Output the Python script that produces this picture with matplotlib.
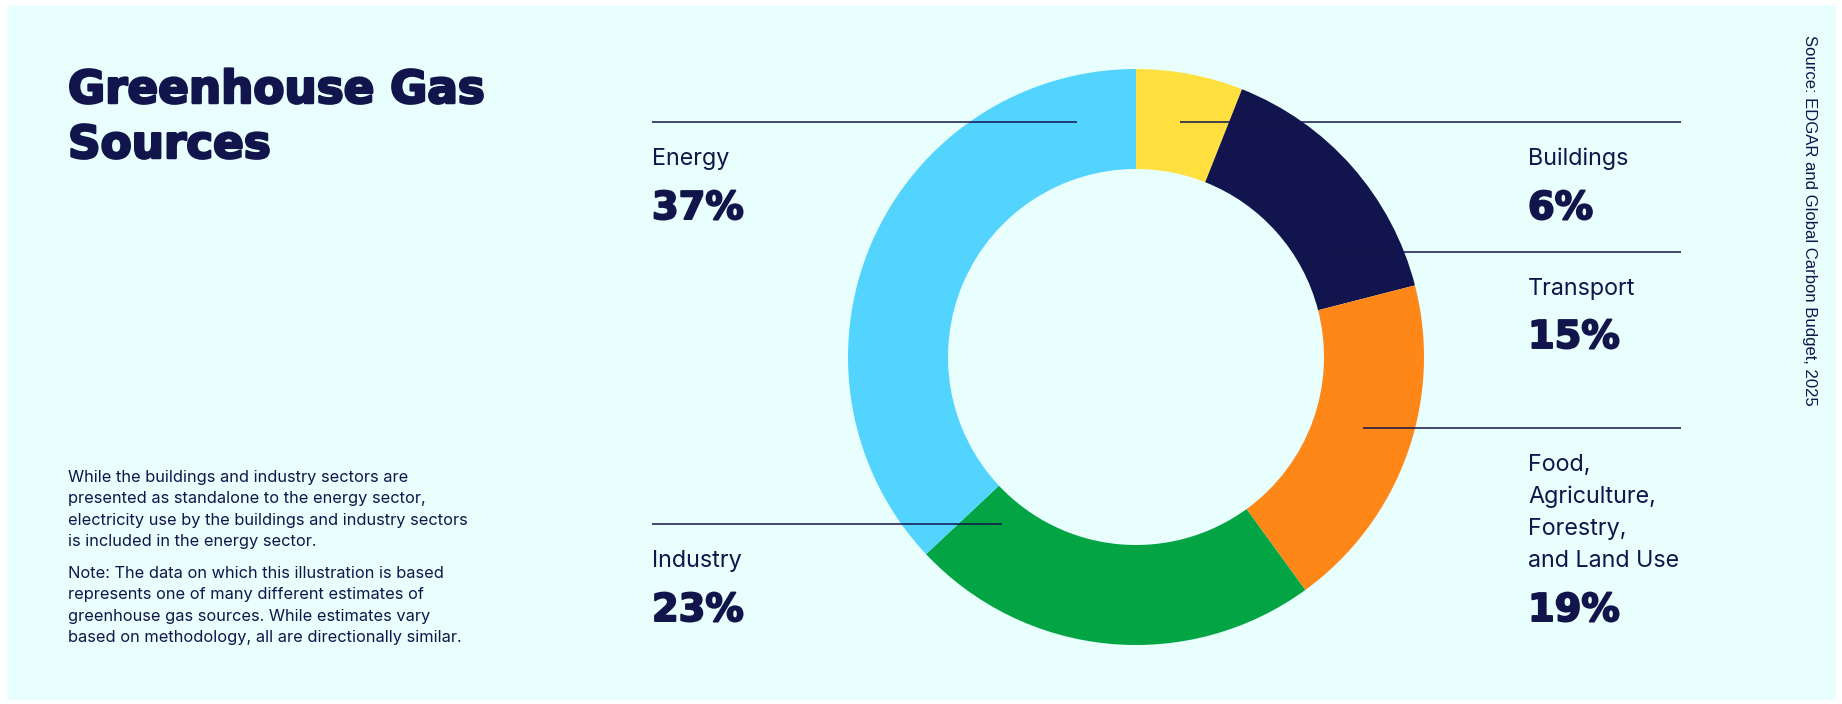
import matplotlib
matplotlib.use("Agg")
import matplotlib.pyplot as plt
import matplotlib.patheffects as pe
from matplotlib.patches import Rectangle

# ---- data ----
categories = ["Buildings", "Transport", "Food,\nAgriculture,\nForestry,\nand Land Use", "Industry", "Energy"]
shares = [6, 15, 19, 23, 37]
colors = ["#FFE03F", "#12154D", "#FF8717", "#03A444", "#52D4FF"]

title = "Greenhouse Gas\nSources"
note1 = ["While the buildings and industry sectors are",
         "presented as standalone to the energy sector,",
         "electricity use by the buildings and industry sectors",
         "is included in the energy sector."]
note2 = ["Note: The data on which this illustration is based",
         "represents one of many different estimates of",
         "greenhouse gas sources. While estimates vary",
         "based on methodology, all are directionally similar."]
source = "Source: EDGAR and Global Carbon Budget, 2025"

W, H = 1842, 704
NAVY = "#12154B"
BG = "#E8FFFD"

fig = plt.figure(figsize=(W / 100, H / 100), dpi=100)
fig.patch.set_facecolor("white")
ax = fig.add_axes([0, 0, 1, 1])

def Y(y):
    return H - y

ax.add_patch(Rectangle((7, Y(700)), 1829, 695, facecolor=BG, edgecolor="none", zorder=0))

cx, cy, R, ring = 1136, 357, 288, 100
ax.pie(shares, colors=colors, startangle=90, counterclock=False,
       center=(cx, Y(cy)), radius=R,
       wedgeprops=dict(width=ring, edgecolor="none", linewidth=0), frame=False)
for w in ax.patches[1:]:
    w.set_zorder(1)

ax.set_xlim(0, W)
ax.set_ylim(0, H)
ax.set_aspect("equal")
ax.axis("off")

# leader lines (pixel layout)
line_kw = dict(color=NAVY, lw=1.1, zorder=3, solid_capstyle="butt")
leader = {
    "Energy": (652, 1077, 122),
    "Buildings": (1180, 1681, 122),
    "Transport": (1330, 1681, 252),
    "Food": (1363, 1681, 428),
    "Industry": (652, 1002, 524),
}
for x0, x1, y in leader.values():
    ax.plot([x0, x1], [Y(y), Y(y)], **line_kw)

heavy = [pe.withStroke(linewidth=1.4, foreground=NAVY)]

# label layout: x, baseline of first name line, baseline of pct
label_pos = {
    "Buildings": (1528, 165, 219),
    "Transport": (1528, 295, 348),
    "Food": (1528, 471, 621),
    "Industry": (652, 567, 621),
    "Energy": (652, 165, 219),
}
name_font = dict(family=["Inter", "DejaVu Sans"], fontsize=16.8, color=NAVY)
pct_font = dict(family=["DejaVu Sans"], fontweight="bold", fontsize=27.6, color=NAVY,
                path_effects=heavy)

for cat, val in zip(categories, shares):
    key = cat.split(",")[0].split("\n")[0]
    x, yb, yp = label_pos[key]
    for i, line in enumerate(cat.split("\n")):
        ax.text(x, Y(yb + i * 32), line, va="baseline", ha="left", **name_font)
    ax.text(x, Y(yp), f"{val}%", va="baseline", ha="left", **pct_font)

# title
for i, line in enumerate(title.split("\n")):
    ax.text(68, Y(103 + i * 55), line, va="baseline", ha="left",
            family=["DejaVu Sans"], fontweight="bold", fontsize=32.6, color=NAVY,
            path_effects=[pe.withStroke(linewidth=1.8, foreground=NAVY)])

# notes
note_font = dict(family=["Inter", "DejaVu Sans"], fontsize=11.8, color=NAVY)
for i, line in enumerate(note1):
    ax.text(68, Y(482 + i * 21.3), line, va="baseline", ha="left", **note_font)
for i, line in enumerate(note2):
    ax.text(68, Y(578 + i * 21.3), line, va="baseline", ha="left", **note_font)

# source
ax.text(1809, Y(35), source, rotation=270, ha="center", va="top",
        family=["Liberation Sans", "DejaVu Sans"], fontsize=12, color=NAVY)

fig.savefig("out.png", dpi=100, facecolor="white")
